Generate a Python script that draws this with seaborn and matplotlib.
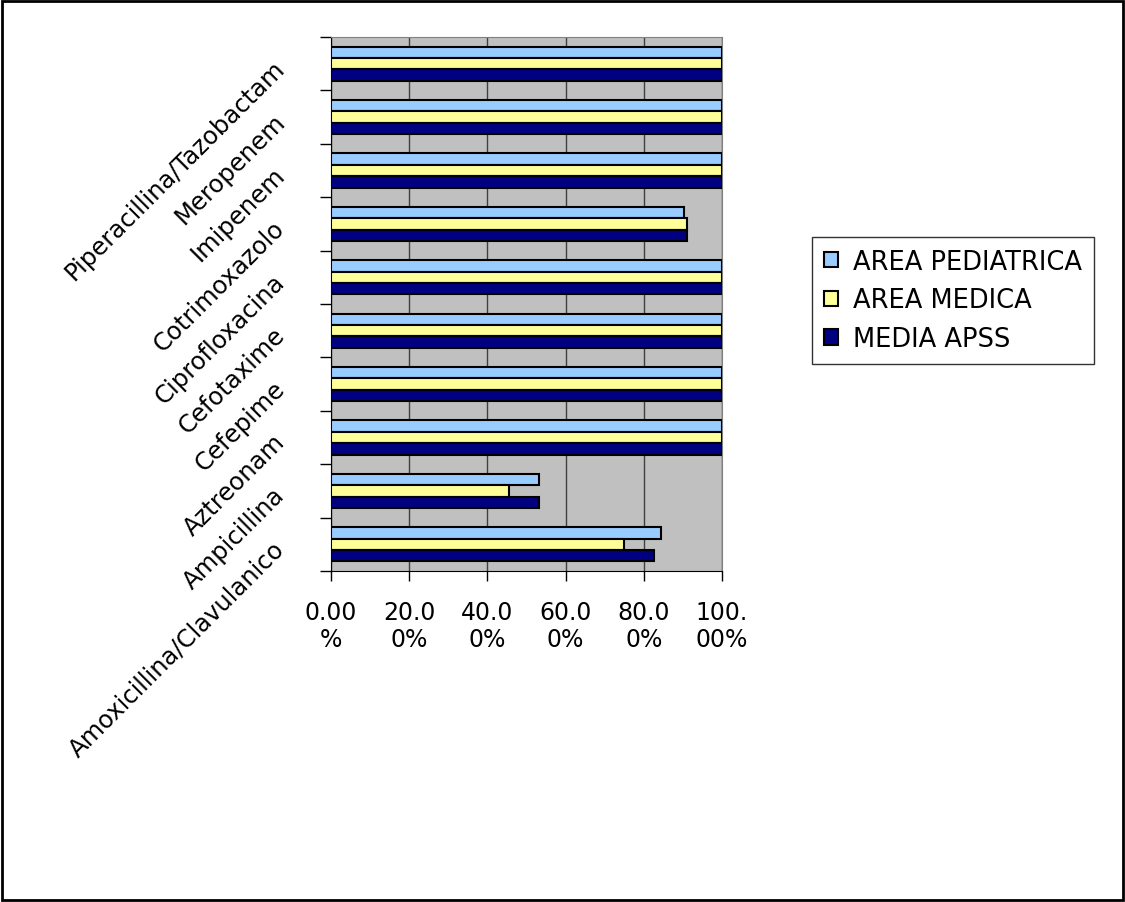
import matplotlib
matplotlib.use('Agg')

import pandas as pd
import matplotlib.pyplot as plt
import seaborn as sns
from matplotlib.patches import Rectangle

# categories from top to bottom
farmaci = ['Piperacillina/Tazobactam', 'Meropenem', 'Imipenem', 'Cotrimoxazolo',
           'Ciprofloxacina', 'Cefotaxime', 'Cefepime', 'Aztreonam', 'Ampicillina',
           'Amoxicillina/Clavulanico']
area_pediatrica = [100, 100, 100, 90.3, 100, 100, 100, 100, 53.2, 84.4]
area_medica = [100, 100, 100, 91.0, 100, 100, 100, 100, 45.5, 74.9]
media_apss = [100, 100, 100, 91.0, 100, 100, 100, 100, 53.2, 82.7]
serie = ['AREA PEDIATRICA', 'AREA MEDICA', 'MEDIA APSS']
colori = ['#99CCFF', '#FFFF99', '#000080']
xtick_labels = ['0.00\n%', '20.0\n0%', '40.0\n0%', '60.0\n0%', '80.0\n0%', '100.\n00%']

df = pd.DataFrame({'farmaco': farmaci * 3,
                   'valore': area_pediatrica + area_medica + media_apss,
                   'serie': [s for s in serie for _ in farmaci]})

plt.rcParams['font.family'] = ['DejaVu Sans']

fig = plt.figure(figsize=(11.25, 9.03), dpi=100)
ax = fig.add_axes([331 / 1125, 1 - 572 / 903, (722 - 331) / 1125, (572 - 38) / 903])
ax.set_facecolor('#C0C0C0')

sns.barplot(data=df, x='valore', y='farmaco', hue='serie', order=farmaci,
            hue_order=serie, palette=colori, saturation=1, orient='h', width=0.64,
            edgecolor='black', linewidth=1.5, ax=ax, zorder=3, legend=True)

ax.set_xlim(0, 100)
ax.set_ylim(len(farmaci) - 0.5, -0.5)
ax.set_xticks(range(0, 101, 20))
ax.set_xticklabels(xtick_labels, fontsize=17, linespacing=1.15)
ax.tick_params(axis='x', length=7, width=1, pad=14)
ax.grid(axis='x', color='#404040', linewidth=1, zorder=1)
ax.set_axisbelow(True)

# labels centred on categories, tick marks on boundaries
ax.set_yticks(range(len(farmaci)))
ax.set_yticklabels(farmaci, rotation=45, ha='right', va='center',
                   rotation_mode='anchor', fontsize=17.5)
ax.tick_params(axis='y', which='major', length=0, pad=36)
ax.set_yticks([i - 0.5 for i in range(len(farmaci) + 1)], minor=True)
ax.tick_params(axis='y', which='minor', length=8, width=1)

ax.set_xlabel('')
ax.set_ylabel('')
for s in ['left', 'bottom']:
    ax.spines[s].set_color('black')
for s in ['top', 'right']:
    ax.spines[s].set_color('#808080')

ax.legend_.remove()
handles, labels = ax.get_legend_handles_labels()
leg = fig.legend(handles[:3], labels[:3], loc='upper left',
                 bbox_to_anchor=(812 / 1125, 1 - 238 / 903),
                 fontsize=18.5, frameon=True, fancybox=False, edgecolor='black',
                 handlelength=0.55, handleheight=0.55, handletextpad=0.6,
                 labelspacing=0.5, borderpad=0.45, borderaxespad=0)
leg.get_frame().set_linewidth(1)

fig.patches.append(Rectangle((0.002, 0.002), 0.996, 0.996, transform=fig.transFigure,
                             fill=False, edgecolor='black', linewidth=2))

fig.savefig('out.png', dpi=100)
